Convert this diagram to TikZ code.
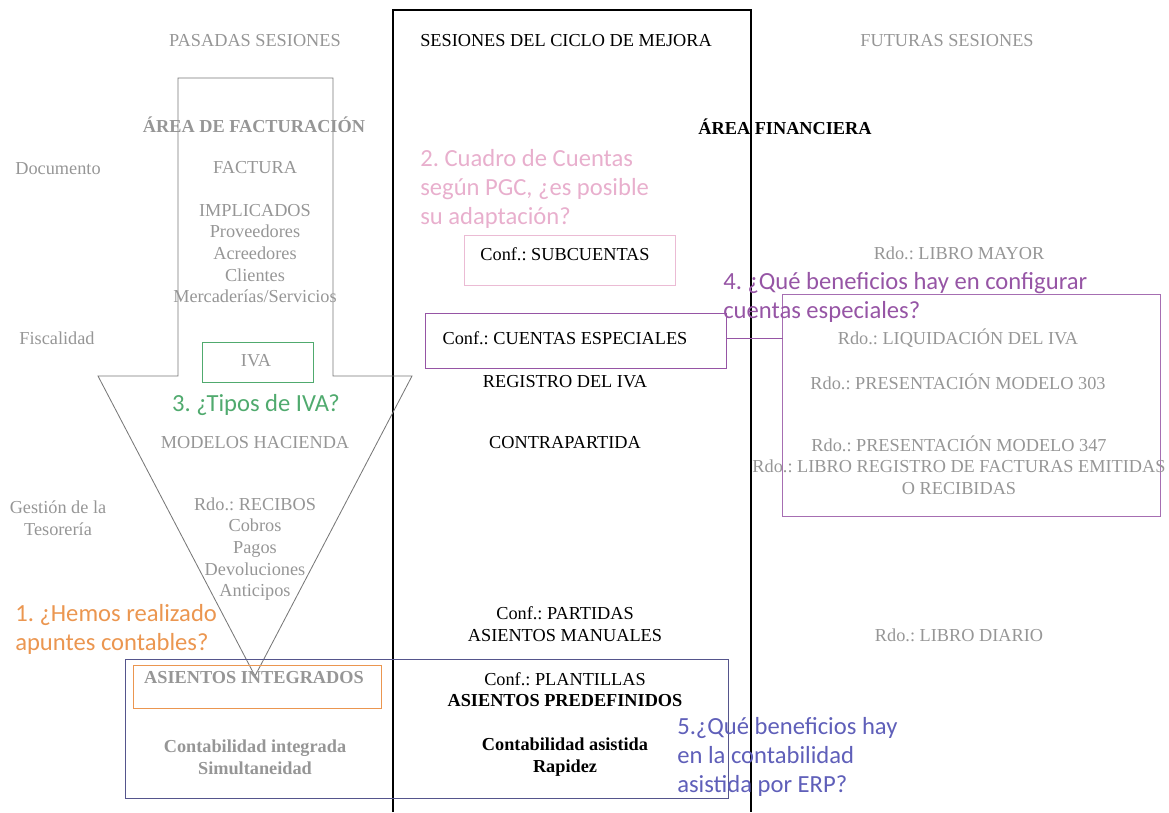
\documentclass[tikz,border=0pt]{standalone}
\usepackage{fontspec}
\setmainfont{Liberation Serif}
\newfontfamily\qfont{Carlito}
\definecolor{pastgray}{RGB}{150,150,150}
\definecolor{arrowgray}{RGB}{120,120,120}
\definecolor{qgreen}{RGB}{80,170,110}
\definecolor{qorange}{RGB}{235,150,80}
\definecolor{qpink}{RGB}{232,175,205}
\definecolor{qpurple}{RGB}{150,85,165}
\definecolor{qblue}{RGB}{95,95,185}
\definecolor{boxblue}{RGB}{85,85,140}

\begin{document}
\frenchspacing
\begin{tikzpicture}[x=0.025cm, y=-0.025cm,
    txt/.style={font=\fontsize{13}{15.4}\selectfont, align=center, inner sep=0pt},
    past/.style={txt, text=pastgray},
    now/.style={txt, text=black},
    ques/.style={font=\qfont\fontsize{17.5}{20.6}\selectfont, align=left, anchor=west, inner sep=0pt},
    box/.style={draw, line width=0.7pt, inner sep=0pt, outer sep=0pt}]
        \useasboundingbox (0,0) rectangle (1169,812);
        % Draw the outlines.
        \draw[line width=0.8pt] (393,812) -- (393,10) -- (751,10) -- (751,812);
        \draw[arrowgray, line width=0.6pt] (178,78) -- (333,78) -- (333,376) -- (412,376)
            -- (255,676) -- (98,376) -- (178,376) -- cycle;
        \node[box, draw=qgreen, minimum width=2.75cm, minimum height=1cm] (ivabox) at (258,362) {};
        \node[box, draw=qorange, minimum width=6.175cm, minimum height=1.075cm] (integbox) at (257.5,686.5) {};
        \node[box, draw=boxblue, minimum width=15.05cm, minimum height=3.475cm] (asistbox) at (427,728.5) {};
        \node[box, draw=qpink!85!white, minimum width=5.25cm, minimum height=1.25cm] (subbox) at (570,260) {};
        \node[box, draw=qpurple, minimum width=7.5cm, minimum height=1.375cm] (espbox) at (576,340.5) {};
        \node[box, draw=qpurple!85!white, minimum width=9.425cm, minimum height=5.525cm] (resbox) at (971.5,405.5) {};
        \draw[qpurple, line width=0.7pt] (espbox.east) ++(0,-2.5) coordinate (espout) -- (espout -| resbox.west);
        % Specify the headers.
        \node[past] (pasadas) at (255,41) {PASADAS SESIONES};
        \node[now] (ciclo) at (566,41) {SESIONES DEL CICLO DE MEJORA};
        \node[past] (futuras) at (947,41) {FUTURAS SESIONES};
        % Specify the row labels.
        \node[past] (documento) at (58,169) {Documento};
        \node[past] (fiscalidad) at (57,338) {Fiscalidad};
        \node[past] (tesoreria) at (58,518) {Gestión de la\\Tesorería};
        % Specify the past sessions.
        \node[past, font=\fontsize{13}{15.4}\selectfont\bfseries] (facturacion) at (254,125) {ÁREA DE FACTURACIÓN};
        \node[past] (factura) at (255,168) {FACTURA};
        \node[past] (implicados) at (255,253.5) {IMPLICADOS\\Proveedores\\Acreedores\\Clientes\\Mercaderías/Servicios};
        \node[past] (iva) at (256,361) {IVA};
        \node[past] (modelos) at (255,443) {MODELOS HACIENDA};
        \node[past] (recibos) at (255,549) {Rdo.: RECIBOS\\Cobros\\Pagos\\Devoluciones\\Anticipos};
        \node[past, font=\fontsize{13}{15.4}\selectfont\bfseries] (integrados) at (254,678) {ASIENTOS INTEGRADOS};
        \node[past, font=\fontsize{13}{15.4}\selectfont\bfseries] (integrada) at (255,757) {Contabilidad integrada\\Simultaneidad};
        % Specify the improvement cycle.
        \node[now, font=\fontsize{13}{15.4}\selectfont\bfseries] (financiera) at (785,127) {ÁREA FINANCIERA};
        \node[now] (subcuentas) at (565,254) {Conf.: SUBCUENTAS};
        \node[now] (especiales) at (565,338) {Conf.: CUENTAS ESPECIALES};
        \node[now] (registro) at (565,382) {REGISTRO DEL IVA};
        \node[now] (contrapartida) at (565,443) {CONTRAPARTIDA};
        \node[now] (partidas) at (565,624) {Conf.: PARTIDAS\\ASIENTOS MANUALES};
        \node[now] (plantillas) at (565,679) {Conf.: PLANTILLAS};
        \node[now, font=\fontsize{13}{15.4}\selectfont\bfseries] (predefinidos) at (565,701) {ASIENTOS PREDEFINIDOS};
        \node[now, font=\fontsize{13}{15.4}\selectfont\bfseries] (asistida) at (565,757) {Contabilidad asistida\\Rapidez};
        % Specify the future sessions.
        \node[past] (mayor) at (959,253) {Rdo.: LIBRO MAYOR};
        \node[past] (liquidacion) at (958,338) {Rdo.: LIQUIDACIÓN DEL IVA};
        \node[past] (modelo303) at (958,382) {Rdo.: PRESENTACIÓN MODELO 303};
        \node[past] (modelo347) at (959,465) {Rdo.: PRESENTACIÓN MODELO 347\\Rdo.: LIBRO REGISTRO DE FACTURAS EMITIDAS\\O RECIBIDAS};
        \node[past] (diario) at (959,635) {Rdo.: LIBRO DIARIO};
        % Specify the questions.
        \node[ques, text=qorange] (q1) at (15,629) {1. ¿Hemos realizado\\apuntes contables?};
        \node[ques, text=qpink] (q2) at (420,188.5) {2. Cuadro de Cuentas\\según PGC, ¿es posible\\su adaptación?};
        \node[ques, text=qgreen, anchor=center] (q3) at (256,405) {3. ¿Tipos de IVA?};
        \node[ques, text=qpurple] (q4) at (723,297.5) {4. ¿Qué beneficios hay en configurar\\cuentas especiales?};
        \node[ques, text=qblue] (q5) at (677,756.5) {5.¿Qué beneficios hay\\en la contabilidad\\asistida por ERP?};
    \end{tikzpicture}
\end{document}
